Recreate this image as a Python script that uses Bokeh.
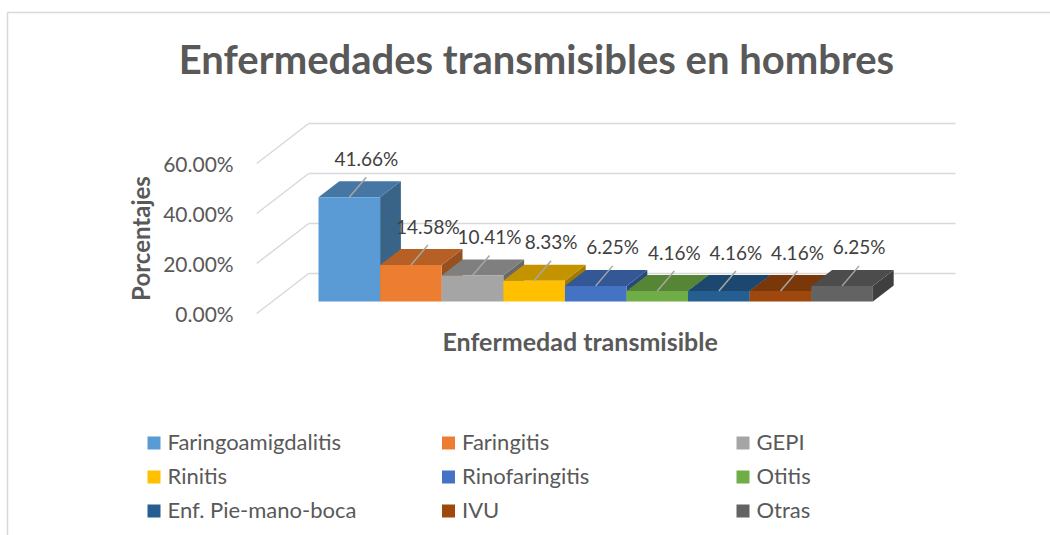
from math import pi
from bokeh.plotting import figure
from bokeh.models import Range1d
from bokeh.core.properties import value
from bokeh.embed import file_html
from bokeh.resources import INLINE

# ---------------- data ----------------
categories = ["Faringoamigdalitis", "Faringitis", "GEPI", "Rinitis", "Rinofaringitis",
              "Otitis", "Enf. Pie-mano-boca", "IVU", "Otras"]
percentages = [41.66, 14.58, 10.41, 8.33, 6.25, 4.16, 4.16, 4.16, 6.25]
y_ticks = [0, 20, 40, 60]
y_tick_labels = ["0.00%", "20.00%", "40.00%", "60.00%"]
bar_colors = ["#5B9BD5", "#ED7D31", "#A5A5A5", "#FFC000", "#4472C4",
              "#70AD47", "#255E91", "#9E480E", "#636363"]
chart_title = "Enfermedades transmisibles en hombres"
x_title = "Enfermedad transmisible"
y_title = "Porcentajes"

# ---------------- layout ----------------
W, H = 1050, 535
PAGE = 0
BAR_PX = 61.6        # pixels per category
PCT_PX = 2.5         # pixels per percent
X0_PAGE = 302.4      # page x of category origin (front plane)
Y0_PAGE = 313.0      # page y of value 0 (front plane)
DEPTH_DX, DEPTH_DY = 52.0, 40.0
BAR_D0, BAR_D1 = 0.3, 0.7
FONT = "Lato"
TXT = "#595959"


def fx(px):
    return (px - X0_PAGE) / BAR_PX


def fy(py):
    return (Y0_PAGE - py) / PCT_PX


def shade(hx, f):
    r, g, b = int(hx[1:3], 16), int(hx[3:5], 16), int(hx[5:7], 16)
    return "#%02x%02x%02x" % (int(r * f), int(g * f), int(b * f))


ddx = DEPTH_DX / BAR_PX
ddy = DEPTH_DY / PCT_PX
n = len(categories)
xl, xr = -0.75, n + 0.75

p = figure(width=W, height=H, output_backend="svg", toolbar_location=None,
           x_range=Range1d(fx(PAGE), fx(PAGE + W)), y_range=Range1d(fy(PAGE + H), fy(PAGE)),
           min_border=0, outline_line_color=None)
p.xaxis.visible = False
p.yaxis.visible = False
p.xgrid.visible = False
p.ygrid.visible = False
p.background_fill_color = "white"
p.border_fill_color = "white"

# chart border (left and top)
p.line([fx(7), fx(7), fx(PAGE + W)],
       [fy(PAGE + H), fy(12), fy(12)], line_color="#d9d9d9", line_width=1.5)

# 3D walls gridlines
grid_col = "#d9d9d9"
p.segment(x0=[xl] * len(y_ticks), y0=y_ticks,
          x1=[xl + ddx] * len(y_ticks), y1=[t + ddy for t in y_ticks],
          line_color=grid_col, line_width=1.5)
p.segment(x0=[xl + ddx] * len(y_ticks), y0=[t + ddy for t in y_ticks],
          x1=[xr + ddx] * len(y_ticks), y1=[t + ddy for t in y_ticks],
          line_color=grid_col, line_width=1.5)

# y tick labels
p.text(x=[xl - 23 / BAR_PX] * len(y_ticks), y=y_ticks, text=y_tick_labels,
       text_align="right", text_baseline="middle", text_font=value(FONT),
       text_font_size="21px", text_color=TXT)

# axis titles
p.text(x=[xl - 116 / BAR_PX], y=[sum(y_ticks) / len(y_ticks)], text=[y_title], angle=pi / 2,
       text_align="center", text_baseline="middle", text_font=value(FONT),
       text_font_style="bold", text_font_size="24px", text_color=TXT)
p.text(x=[(xl + xr) / 2], y=[fy(340)], text=[x_title],
       text_align="center", text_baseline="alphabetic", text_font=value(FONT),
       text_font_style="bold", text_font_size="25px", text_color=TXT)

# bars (side faces, top faces, front faces)
ax, ay = BAR_D0 * ddx, BAR_D0 * ddy
bx, by = BAR_D1 * ddx, BAR_D1 * ddy
side_xs, side_ys, top_xs, top_ys = [], [], [], []
for i, v in enumerate(percentages):
    side_xs.append([i + 1 + ax, i + 1 + bx, i + 1 + bx, i + 1 + ax])
    side_ys.append([ay, by, v + by, v + ay])
    top_xs.append([i + ax, i + 1 + ax, i + 1 + bx, i + bx])
    top_ys.append([v + ay, v + ay, v + by, v + by])
p.patches(side_xs, side_ys, fill_color=[shade(c, 0.64) for c in bar_colors], line_color=None)
p.patches(top_xs, top_ys, fill_color=[shade(c, 0.77) for c in bar_colors], line_color=None)
p.quad(left=[i + ax for i in range(n)], right=[i + 1 + ax for i in range(n)],
       bottom=[ay] * n, top=[v + ay for v in percentages],
       fill_color=bar_colors, line_color=None)

# data labels with leader lines
cx = [i + 0.5 + ax for i in range(n)]
cy = [v + ay for v in percentages]
p.segment(x0=cx, y0=cy, x1=[c + 17 / BAR_PX for c in cx], y1=[c + 20 / PCT_PX for c in cy],
          line_color="#a6a6a6", line_width=1.5)
p.text(x=[c + 17 / BAR_PX for c in cx], y=[c + 39 / PCT_PX for c in cy],
       text=["%.2f%%" % v for v in percentages],
       text_align="center", text_baseline="middle", text_font=value(FONT),
       text_font_size="19px", text_color="#404040")

# title
p.text(x=[fx(536)], y=[fy(58)], text=[chart_title], text_align="center",
       text_baseline="alphabetic", text_font=value(FONT), text_font_style="bold",
       text_font_size="40px", text_color=TXT)

# legend (3 columns x 3 rows)
col_px = [147, 441.5, 736]
row_px = [449, 483, 517]
lx, ly, rl, rr, rb, rt = [], [], [], [], [], []
for k, name in enumerate(categories):
    c0 = col_px[k % 3]
    r0 = row_px[k // 3]
    rl.append(fx(c0))
    rr.append(fx(c0 + 13))
    rb.append(fy(r0))
    rt.append(fy(r0 - 13))
    lx.append(fx(c0 + 20))
    ly.append(fy(r0 - 8))
p.quad(left=rl, right=rr, bottom=rb, top=rt, fill_color=bar_colors, line_color=None)
p.text(x=lx, y=ly, text=categories, text_align="left", text_baseline="alphabetic",
       text_font=value(FONT), text_font_size="22px", text_color=TXT)

open("out.html", "w").write(file_html(p, INLINE))
